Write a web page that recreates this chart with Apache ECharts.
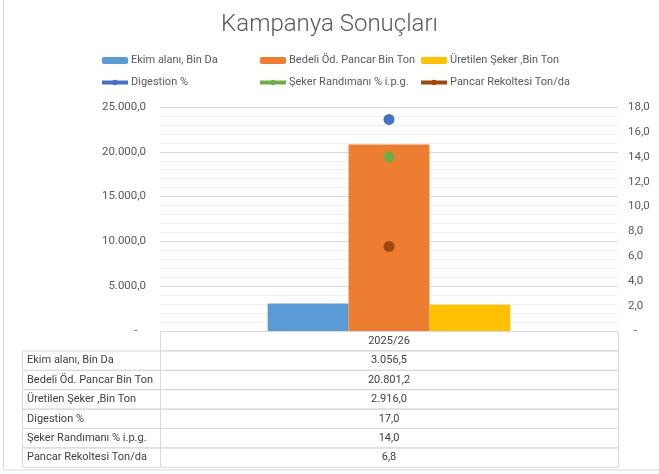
<!DOCTYPE html>
<html>
<head>
<meta charset="utf-8">
<script src="https://cdn.jsdelivr.net/npm/echarts@6/dist/echarts.min.js"></script>
<style>
  html, body { margin: 0; padding: 0; background: #fff; }
  #chart { width: 659px; height: 474px; }
</style>
</head>
<body>
<div id="chart"></div>
<script>
// kampanya verileri
var categories = ['2025/26'];
var barNames = ['Ekim alanı, Bin Da', 'Bedeli Öd. Pancar Bin Ton', 'Üretilen Şeker ,Bin Ton'];
var barValues = [3056.5, 20801.2, 2916.0];
var pointNames = ['Digestion %', 'Şeker Randımanı % i.p.g.', 'Pancar Rekoltesi Ton/da'];
var pointValues = [17.0, 14.0, 6.8];
var barColors = ['#5B9BD5', '#ED7D31', '#FFC000'];
var pointColors = ['#4472C4', '#70AD47', '#9E480E'];

var FONT = 'Roboto, sans-serif';
var TXT = '#595959';

// 12345.6 -> "12.345,6"
function fmt(v) {
    var s = Math.abs(v).toFixed(1).split('.');
    var intPart = s[0].replace(/\B(?=(\d{3})+(?!\d))/g, '.');
    return (v < 0 ? '-' : '') + intPart + ',' + s[1];
}

var gridLeft = 160, gridRight = 41, gridTop = 107, gridBottom = 143;
var W = 659, H = 474;

// veri tablosu (grafiğin altında)
function buildTable() {
    var els = [];
    var colX = gridLeft, right = W - gridRight, labelX = 22;
    var top = H - gridBottom, rowH = 19.4;
    var border = '#d9d9d9';
    var font = '11px ' + FONT;
    els.push({
        type: 'rect', shape: {x: colX + 0.5, y: top + 0.5, width: right - colX, height: rowH},
        style: {fill: 'none', stroke: border, lineWidth: 1}, silent: true
    });
    els.push({
        type: 'text', x: (colX + right) / 2, y: top + rowH / 2 + 0.5,
        style: {text: categories[0], fill: '#404040', font: font, align: 'center', verticalAlign: 'middle'}
    });
    var names = barNames.concat(pointNames);
    var vals = barValues.concat(pointValues);
    for (var i = 0; i < names.length; i++) {
        var y = top + rowH * (i + 1);
        els.push({
            type: 'rect', shape: {x: labelX + 0.5, y: y + 0.5, width: colX - labelX, height: rowH},
            style: {fill: 'none', stroke: border, lineWidth: 1}, silent: true
        });
        els.push({
            type: 'rect', shape: {x: colX + 0.5, y: y + 0.5, width: right - colX, height: rowH},
            style: {fill: 'none', stroke: border, lineWidth: 1}, silent: true
        });
        els.push({
            type: 'text', x: labelX + 5, y: y + rowH / 2 + 0.5,
            style: {text: names[i], fill: '#404040', font: font, align: 'left', verticalAlign: 'middle'}
        });
        els.push({
            type: 'text', x: (colX + right) / 2, y: y + rowH / 2 + 0.5,
            style: {text: fmt(vals[i]), fill: '#404040', font: font, align: 'center', verticalAlign: 'middle'}
        });
    }
    // dış çerçeve
    els.push({
        type: 'rect', shape: {x: 3.5, y: -5, width: W + 10, height: 475},
        style: {fill: 'none', stroke: '#d9d9d9', lineWidth: 1}, silent: true
    });
    return els;
}

var series = [];
for (var i = 0; i < barNames.length; i++) {
    series.push({
        name: barNames[i],
        type: 'bar',
        data: [barValues[i]],
        itemStyle: {color: barColors[i]},
        barGap: '0%',
        barCategoryGap: '47%'
    });
}
for (var j = 0; j < pointNames.length; j++) {
    series.push({
        name: pointNames[j],
        type: 'line',
        yAxisIndex: 1,
        data: [pointValues[j]],
        symbol: 'circle',
        symbolSize: 11,
        itemStyle: {color: pointColors[j]},
        lineStyle: {width: 4, color: pointColors[j]},
        z: 5
    });
}

function legendCol(left, items) {
    return {
        data: items,
        orient: 'vertical',
        left: left,
        top: 54,
        padding: 0,
        itemGap: 9,
        itemWidth: 26,
        itemHeight: 7,
        lineStyle: {width: 4},
        textStyle: {color: TXT, fontSize: 11, fontFamily: FONT, padding: [0, 0, 0, -2], lineHeight: 13}
    };
}

var myChart = echarts.init(document.getElementById('chart'));
myChart.setOption({
    animation: false,
    backgroundColor: '#fff',
    title: {
        text: 'Kampanya Sonuçları',
        left: 'center',
        top: 8,
        textStyle: {color: TXT, fontSize: 24, fontWeight: 300, fontFamily: FONT}
    },
    legend: [
        legendCol(100, [barNames[0], pointNames[0]]),
        legendCol(258, [barNames[1], pointNames[1]]),
        legendCol(419, [barNames[2], pointNames[2]])
    ],
    grid: {left: gridLeft, right: gridRight, top: gridTop, bottom: gridBottom},
    xAxis: {
        type: 'category',
        data: categories,
        axisLine: {show: false},
        axisTick: {show: false},
        axisLabel: {show: false}
    },
    yAxis: [
        {
            type: 'value',
            min: 0, max: 25000, interval: 5000,
            axisLine: {show: false},
            axisTick: {show: false},
            axisLabel: {
                color: TXT, fontSize: 11.5, fontFamily: FONT, margin: 14,
                formatter: function (v) { return v === 0 ? '-   ' : fmt(v); }
            },
            splitLine: {lineStyle: {color: '#d9d9d9'}},
            minorTick: {show: false, splitNumber: 5},
            minorSplitLine: {show: true, lineStyle: {color: '#f0f0f0'}}
        },
        {
            type: 'value',
            min: 0, max: 18, interval: 2,
            axisLine: {show: false},
            axisTick: {show: false},
            splitLine: {show: false},
            axisLabel: {
                color: TXT, fontSize: 11.5, fontFamily: FONT, margin: 10,
                formatter: function (v) { return v === 0 ? '  -' : fmt(v); }
            }
        }
    ],
    series: series,
    graphic: buildTable()
});
</script>
</body>
</html>
